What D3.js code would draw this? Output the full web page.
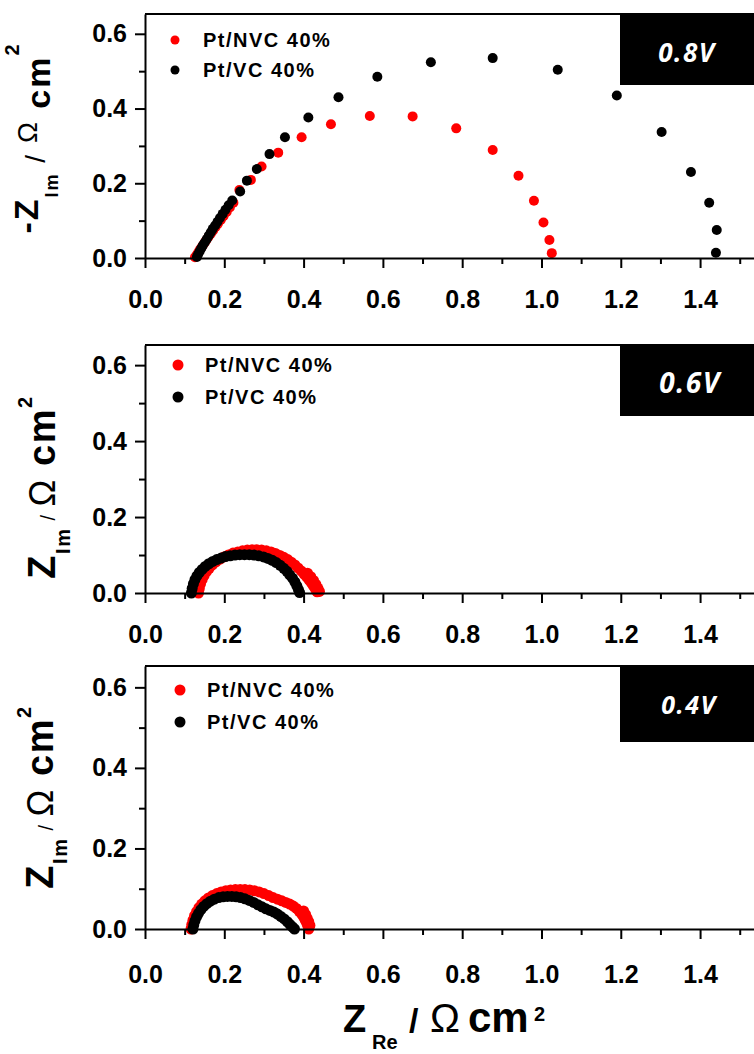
<!DOCTYPE html>
<html>
<head>
<meta charset="utf-8">
<script src="https://cdn.jsdelivr.net/npm/d3@7"></script>
<style>
  html, body { margin: 0; padding: 0; background: #fff; }
  svg { display: block; }
  text { font-family: "Liberation Sans", Arial, Helvetica, sans-serif; }
</style>
</head>
<body>
<svg id="chart" width="754" height="1054"></svg>
<script>
// ---- Axis ticks ----
const xTickValues = [0.0, 0.2, 0.4, 0.6, 0.8, 1.0, 1.2, 1.4];
const xMinorValues = [0.1, 0.3, 0.5, 0.7, 0.9, 1.1, 1.3, 1.5];
const yTickValues = [0.0, 0.2, 0.4, 0.6];
const yMinorValues = [0.1, 0.3, 0.5];

// ---- Series ----
const seriesNames = ["Pt/NVC 40%", "Pt/VC 40%"];
const seriesColors = ["#ff0000", "#000000"];
const potentials = ["0.8V", "0.6V", "0.4V"];

// Nyquist data [Z_Re, -Z_Im] in Ω cm², 0.8 V
const nvc08 = [
  [0.126,0.002],[0.131,0.009],[0.135,0.016],[0.139,0.023],[0.144,0.031],[0.149,0.039],
  [0.154,0.047],[0.160,0.056],[0.166,0.065],[0.172,0.074],[0.178,0.083],[0.184,0.092],
  [0.191,0.102],[0.198,0.112],[0.206,0.123],[0.214,0.135],[0.223,0.148],
  [0.238,0.182],[0.267,0.209],[0.294,0.245],[0.336,0.282],[0.395,0.323],[0.469,0.358],
  [0.567,0.380],[0.675,0.379],[0.785,0.347],[0.877,0.289],[0.942,0.220],[0.981,0.153],
  [1.005,0.095],[1.020,0.048],[1.026,0.013]
];
const vc08 = [
  [0.131,0.003],[0.134,0.010],[0.138,0.018],[0.142,0.026],[0.146,0.034],[0.151,0.042],
  [0.156,0.051],[0.161,0.060],[0.166,0.069],[0.171,0.078],[0.177,0.087],[0.183,0.097],
  [0.189,0.107],[0.196,0.118],[0.203,0.129],[0.211,0.141],[0.220,0.154],
  [0.240,0.178],[0.257,0.207],[0.282,0.238],[0.314,0.278],[0.353,0.323],[0.412,0.376],
  [0.488,0.430],[0.586,0.485],[0.721,0.524],[0.877,0.535],[1.041,0.504],[1.190,0.435],
  [1.303,0.337],[1.377,0.230],[1.423,0.148],[1.442,0.075],[1.440,0.014]
];

// 0.6 V
const nvc06 = [
  [0.135,0.000],[0.137,0.012],[0.140,0.024],[0.144,0.035],[0.149,0.046],[0.155,0.056],
  [0.162,0.065],[0.170,0.074],[0.179,0.082],[0.189,0.089],[0.199,0.095],[0.210,0.100],
  [0.222,0.105],[0.234,0.108],[0.246,0.111],[0.258,0.113],[0.270,0.114],[0.282,0.114],
  [0.294,0.113],[0.306,0.111],[0.318,0.108],[0.329,0.104],[0.340,0.099],[0.350,0.094],
  [0.360,0.088],[0.369,0.081],[0.378,0.074],[0.386,0.066],[0.394,0.058],[0.401,0.050],
  [0.408,0.042],[0.414,0.034],[0.420,0.026],[0.425,0.018],[0.430,0.010],[0.434,0.003],
  [0.410,0.052],[0.418,0.043],[0.425,0.033],[0.431,0.023],[0.436,0.013],[0.440,0.004]
];
const vc06 = [
  [0.117,0.000],[0.119,0.012],[0.122,0.024],[0.126,0.035],[0.131,0.045],[0.137,0.054],
  [0.144,0.062],[0.152,0.070],[0.161,0.077],[0.171,0.083],[0.181,0.088],[0.192,0.092],
  [0.203,0.096],[0.215,0.098],[0.227,0.100],[0.239,0.101],[0.251,0.101],[0.263,0.101],
  [0.275,0.100],[0.287,0.098],[0.299,0.095],[0.310,0.091],[0.321,0.086],[0.331,0.080],
  [0.341,0.073],[0.350,0.065],[0.358,0.057],[0.365,0.048],[0.372,0.039],[0.378,0.029],
  [0.383,0.019],[0.387,0.009],[0.390,0.001]
];

// 0.4 V
const nvc04 = [
  [0.116,0.000],[0.118,0.011],[0.121,0.022],[0.125,0.033],[0.130,0.043],[0.136,0.053],
  [0.143,0.062],[0.151,0.070],[0.160,0.077],[0.170,0.083],[0.181,0.088],[0.192,0.092],
  [0.204,0.095],[0.216,0.097],[0.228,0.098],[0.240,0.098],[0.252,0.098],[0.264,0.097],
  [0.276,0.095],[0.288,0.092],[0.300,0.088],[0.312,0.083],[0.323,0.078],[0.334,0.074],
  [0.345,0.070],[0.355,0.066],[0.365,0.062],[0.374,0.057],[0.382,0.051],[0.389,0.044],
  [0.395,0.037],[0.400,0.030],[0.404,0.022],[0.408,0.014],[0.411,0.007],[0.413,0.000],
  [0.400,0.045],[0.405,0.036],[0.409,0.027],[0.413,0.018],[0.416,0.009]
];
const vc04 = [
  [0.121,0.000],[0.123,0.010],[0.126,0.020],[0.130,0.030],[0.135,0.039],[0.141,0.048],
  [0.148,0.056],[0.156,0.063],[0.165,0.069],[0.175,0.074],[0.186,0.078],[0.197,0.080],
  [0.208,0.081],[0.219,0.081],[0.230,0.080],[0.241,0.078],[0.252,0.075],[0.263,0.071],
  [0.274,0.066],[0.285,0.060],[0.295,0.055],[0.305,0.050],[0.315,0.046],[0.325,0.042],
  [0.334,0.037],[0.343,0.031],[0.351,0.025],[0.359,0.018],[0.366,0.011],[0.372,0.005],
  [0.377,0.000]
];

const panelSeries = [[nvc08, vc08], [nvc06, vc06], [nvc04, vc04]];

// ---- Layout ----
const plotLeft = 145, plotRight = 754;
const xMax = 1.536, yMax = 0.653;
const panels = [
  { top: 14,  bottom: 258, boxBottom: 85,  tagX: 687, tagY: 62,  tagSize: 26, legX: 175, legY: [40, 70],   legR: 4.5, dotR: 5,   legTextX: 203, pad: 22,
    yTitle: { bx: 38, cy: 138, ls: 2, parts: [["-Z",34,"bold",0],["Im",18,"bold",20],[" / ",28,"normal",-13],["\u03A9",28,"normal",-8],[" cm",34,"bold",13],["2",20,"bold",-31]] } },
  { top: 345, bottom: 593, boxBottom: 416, tagX: 690, tagY: 393, tagSize: 28, legX: 178, legY: [365, 397], legR: 5.5, dotR: 5.5, legTextX: 205, pad: 22,
    yTitle: { bx: 55, cy: 487, ls: 1.5, parts: [["Z",38,"bold",0],["Im",20,"bold",15],[" / ",20,"normal",-15],["\u03A9",36,"normal",0],[" cm",38,"bold",0],["2",20,"bold",-23]] } },
  { top: 666, bottom: 929, boxBottom: 742, tagX: 689, tagY: 714, tagSize: 25, legX: 180, legY: [690, 722], legR: 5.5, dotR: 5.5, legTextX: 207, pad: 26,
    yTitle: { bx: 53, cy: 797, ls: 1.5, parts: [["Z",38,"bold",0],["Im",20,"bold",14],[" / ",20,"normal",-14],["\u03A9",36,"normal",0],[" cm",38,"bold",0],["2",20,"bold",-22]] } }
];

const svg = d3.select("#chart");
const x = d3.scaleLinear().domain([0, xMax]).range([plotLeft, plotRight]);
const fmt = d3.format(".1f");

panels.forEach((p, i) => {
  const y = d3.scaleLinear().domain([0, yMax]).range([p.bottom, p.top]);
  const g = svg.append("g");

  // frame top edge
  g.append("line").attr("x1", plotLeft).attr("x2", plotRight)
    .attr("y1", p.top).attr("y2", p.top)
    .attr("stroke", "#000").attr("stroke-width", 2);

  // potential tag
  g.append("rect").attr("x", 620).attr("y", p.top)
    .attr("width", plotRight - 620).attr("height", p.boxBottom - p.top)
    .attr("fill", "#000");
  g.append("text").attr("x", p.tagX).attr("y", p.tagY)
    .attr("text-anchor", "middle")
    .style("font-family", "'Open Sans', 'DejaVu Sans', sans-serif")
    .style("font-style", "italic").style("font-weight", 700)
    .style("letter-spacing", "1.5px")
    .style("font-size", p.tagSize + "px").attr("fill", "#fff")
    .text(potentials[i]);

  // data points
  panelSeries[i].forEach((data, s) => {
    g.append("g").selectAll("circle").data(data).join("circle")
      .attr("cx", d => x(d[0])).attr("cy", d => y(d[1]))
      .attr("r", p.dotR).attr("fill", seriesColors[s]);
  });

  // axes
  const styleAxis = a => {
    a.attr("font-family", null).attr("font-size", null);
    a.selectAll("path.domain").attr("stroke", "#000").attr("stroke-width", 2);
    a.selectAll(".tick line").attr("stroke", "#000").attr("stroke-width", 2);
    a.selectAll(".tick text").attr("fill", "#000")
      .style("font-size", "25px").style("font-weight", "bold");
  };
  const xa = g.append("g").attr("transform", `translate(0,${p.bottom})`)
    .call(d3.axisBottom(x).tickValues(xTickValues).tickFormat(fmt)
      .tickSize(10).tickSizeOuter(0).tickPadding(p.pad));
  styleAxis(xa);
  const xm = g.append("g").attr("transform", `translate(0,${p.bottom})`)
    .call(d3.axisBottom(x).tickValues(xMinorValues).tickFormat("").tickSize(6).tickSizeOuter(0));
  xm.select("path.domain").remove();
  styleAxis(xm);

  const ya = g.append("g").attr("transform", `translate(${plotLeft},0)`)
    .call(d3.axisLeft(y).tickValues(yTickValues).tickFormat(fmt)
      .tickSize(10).tickSizeOuter(0).tickPadding(8));
  styleAxis(ya);
  const ym = g.append("g").attr("transform", `translate(${plotLeft},0)`)
    .call(d3.axisLeft(y).tickValues(yMinorValues).tickFormat("").tickSize(6).tickSizeOuter(0));
  ym.select("path.domain").remove();
  styleAxis(ym);

  // legend
  seriesNames.forEach((name, s) => {
    g.append("circle").attr("cx", p.legX).attr("cy", p.legY[s])
      .attr("r", p.legR).attr("fill", seriesColors[s]);
    g.append("text").attr("x", p.legTextX).attr("y", p.legY[s] + 7)
      .style("font-size", "20px").style("font-weight", "bold")
      .style("letter-spacing", "1.5px").attr("fill", "#000")
      .text(name);
  });

  // y-axis title
  const t = g.append("text")
    .attr("transform", `translate(${p.yTitle.bx},${p.yTitle.cy}) rotate(-90)`)
    .attr("text-anchor", "middle").attr("fill", "#000")
    .style("letter-spacing", p.yTitle.ls + "px");
  p.yTitle.parts.forEach(([str, size, weight, dy]) => {
    t.append("tspan").attr("dy", dy)
      .style("font-size", size + "px").style("font-weight", weight)
      .text(str);
  });
});

// x-axis title
const xt = svg.append("text").attr("fill", "#000");
xt.append("tspan").attr("x", 343).attr("y", 1032).style("font-size", "38px").style("font-weight", "bold").text("Z");
xt.append("tspan").attr("x", 372).attr("y", 1049).style("font-size", "20px").style("font-weight", "bold").text("Re");
xt.append("tspan").attr("x", 409).attr("y", 1032).style("font-size", "34px").style("font-weight", "bold").text("/");
xt.append("tspan").attr("x", 430).attr("y", 1032).style("font-size", "40px").style("font-weight", "normal").text("\u03A9");
xt.append("tspan").attr("x", 468).attr("y", 1032).style("font-size", "42px").style("font-weight", "bold").text("cm");
xt.append("tspan").attr("x", 534).attr("y", 1021).style("font-size", "20px").style("font-weight", "bold").text("2");
</script>
</body>
</html>
